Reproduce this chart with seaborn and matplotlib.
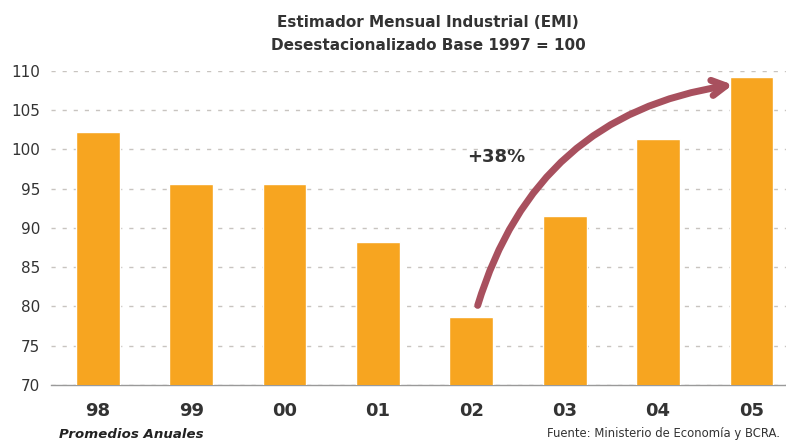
import matplotlib
matplotlib.use('Agg')
import matplotlib.pyplot as plt
import seaborn as sns
import pandas as pd

# Annual averages of the EMI index (base 1997 = 100)
years = ['98', '99', '00', '01', '02', '03', '04', '05']
emi = [102.2, 95.6, 95.6, 88.2, 78.7, 91.5, 101.3, 109.2]
yticks = [70, 75, 80, 85, 90, 95, 100, 105, 110]

df = pd.DataFrame({'Año': years, 'EMI': emi})

sns.set_style('white')
plt.rcParams['font.family'] = ['DejaVu Sans']

fig = plt.figure(figsize=(7.86, 4.41), dpi=100)
ax = fig.add_axes([0.065, 0.127, 0.935, 0.712])

sns.barplot(data=df, x='Año', y='EMI', color='#F7A520', width=0.47,
            saturation=1, ax=ax, zorder=3)

ax.set_ylim(70, 110)
ax.set_xlim(-0.5, 7.37)
ax.set_yticks(yticks)
ax.yaxis.grid(True, linestyle=(0, (3, 5)), color='#C8C4C0', linewidth=1)
ax.set_axisbelow(True)
for s in ['top', 'right', 'left']:
    ax.spines[s].set_visible(False)
ax.spines['bottom'].set_color('#9A9A9A')
ax.spines['bottom'].set_linewidth(1)
ax.tick_params(axis='y', length=0, labelsize=11, labelcolor='#333333', pad=8)
ax.tick_params(axis='x', length=0, labelsize=13, labelcolor='#333333', pad=12)
for lab in ax.get_xticklabels():
    lab.set_fontweight('bold')
ax.set_xlabel('')
ax.set_ylabel('')

# growth arrow 02 -> 05
ax.annotate('', xy=(6.83, 108.3), xytext=(4.06, 79.8),
            arrowprops=dict(arrowstyle='->,head_length=1.0,head_width=0.55',
                            color='#A8505E', lw=5, capstyle='round',
                            joinstyle='round',
                            connectionstyle='arc3,rad=-0.32'),
            annotation_clip=False, zorder=5)
ax.text(4.27, 99.0, '+38%', ha='center', va='center', fontsize=13,
        fontweight='bold', color='#333333')

fig.text(0.545, 0.948, 'Estimador Mensual Industrial (EMI)', ha='center',
         va='center', fontsize=11, fontweight='bold', color='#333333')
fig.text(0.545, 0.896, 'Desestacionalizado Base 1997 = 100', ha='center',
         va='center', fontsize=11, fontweight='bold', color='#333333')
fig.text(0.075, 0.015, 'Promedios Anuales', ha='left', va='center',
         fontsize=9.6, fontweight='bold', fontstyle='italic', color='#222222')
fig.text(0.993, 0.018, 'Fuente: Ministerio de Economía y BCRA.', ha='right',
         va='center', fontsize=8.4, color='#333333')

fig.savefig('out.png', dpi=100)
